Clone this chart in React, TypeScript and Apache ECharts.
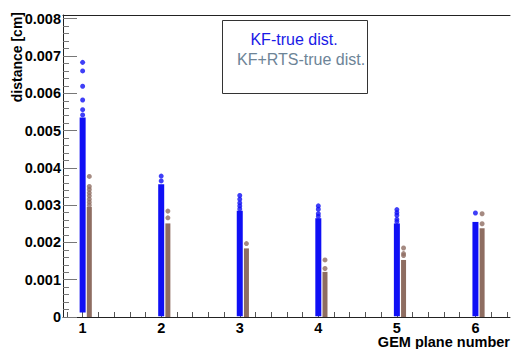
import React, { useEffect, useRef } from "react";
import * as echarts from "echarts";

// GEM plane numbers
const planes = [1, 2, 3, 4, 5, 6];
// x-axis tick labels
const xTickValues = [1, 2, 3, 4, 5, 6];
// y-axis tick labels
const yTickValues = [0, 0.001, 0.002, 0.003, 0.004, 0.005, 0.006, 0.007, 0.008];

// KF-true dist.: dense bulk of points (low / high) per plane
const kfBulkLow = [0.00012, 0.00002, 0.00002, 0.00002, 0.00002, 0.00002];
const kfBulkHigh = [0.00535, 0.00356, 0.00285, 0.00265, 0.00251, 0.00255];
// KF-true dist.: isolated points above the bulk
const kfSparse1 = [0.00683, 0.0066, 0.00619, 0.00582, 0.00556, 0.00542];
const kfSparse2 = [0.00378, 0.00365];
const kfSparse3 = [0.00326, 0.00316, 0.00306, 0.00298, 0.0029];
const kfSparse4 = [0.00298, 0.00289, 0.00277, 0.0027];
const kfSparse5 = [0.00288, 0.0028, 0.00273, 0.00262, 0.00256];
const kfSparse6 = [0.00279];
const kfSparse = [kfSparse1, kfSparse2, kfSparse3, kfSparse4, kfSparse5, kfSparse6];

// KF+RTS-true dist.: dense bulk per plane
const rtsBulkLow = [0, 0, 0, 0, 0, 0];
const rtsBulkHigh = [0.00295, 0.00251, 0.00184, 0.00121, 0.00153, 0.00238];
// KF+RTS-true dist.: isolated points
const rtsSparse1 = [0.00377, 0.0035, 0.00342, 0.00333, 0.00325, 0.00316, 0.00308, 0.003];
const rtsSparse2 = [0.00284, 0.00266];
const rtsSparse3 = [0.00197];
const rtsSparse4 = [0.00153, 0.0013];
const rtsSparse5 = [0.00185, 0.0017, 0.00165];
const rtsSparse6 = [0.00277, 0.0025];
const rtsSparse = [rtsSparse1, rtsSparse2, rtsSparse3, rtsSparse4, rtsSparse5, rtsSparse6];

const BLUE = "#0f0ff5";
const BROWN = "#8e6d61";
const RTS_SHIFT = 0.085;
const FONT = "'Liberation Sans', Arial, sans-serif";

function minorValues(lo: number, hi: number, step: number, majors: number[]) {
  const out: number[] = [];
  const n = Math.round((hi - lo) / step);
  for (let i = 0; i <= n; i++) {
    const v = +(lo + i * step).toFixed(6);
    if (!majors.some((m) => Math.abs(m - v) < step / 10)) out.push(v);
  }
  return out;
}

export default function App() {
  const ref = useRef<HTMLDivElement>(null);
  useEffect(() => {
    if (!ref.current) return;
    const chart = echarts.init(ref.current, null, { renderer: "svg" });
    const xMin = 0.75;
    const xMax = 6.44;
    const yMax = 0.0081;

    const bulkRender = (width: number) => (params: any, api: any) => {
      const x = api.value(0);
      const p0 = api.coord([x, api.value(1)]);
      const p1 = api.coord([x, api.value(2)]);
      return {
        type: "rect",
        shape: { x: p0[0] - width / 2, y: p1[1], width, height: p0[1] - p1[1] },
        style: { fill: api.visual("color") },
      };
    };

    const kfBulk = planes.map((p, i) => [p, kfBulkLow[i], kfBulkHigh[i]]);
    const rtsBulk = planes.map((p, i) => [p + RTS_SHIFT, rtsBulkLow[i], rtsBulkHigh[i]]);
    const kfPts: number[][] = [];
    planes.forEach((p, i) => kfSparse[i].forEach((v) => kfPts.push([p, v])));
    const rtsPts: number[][] = [];
    planes.forEach((p, i) => rtsSparse[i].forEach((v) => rtsPts.push([p + RTS_SHIFT, v])));

    const axisLabelBase = { fontFamily: FONT, fontWeight: "bold", fontSize: 14.5, color: "#000" };

    chart.setOption({
      animation: false,
      backgroundColor: "#fff",
      grid: { left: 63, right: 2, top: 15, bottom: 32 },
      xAxis: [
        {
          type: "value", min: xMin, max: xMax, position: "bottom",
          axisLine: { show: true, onZero: false, lineStyle: { color: "#222", width: 1 } },
          axisTick: { show: true, inside: true, length: 10, customValues: xTickValues, lineStyle: { color: "#555" } },
          axisLabel: { show: true, customValues: xTickValues, margin: 3, ...axisLabelBase },
          splitLine: { show: false },
        },
        {
          type: "value", min: xMin, max: xMax, position: "bottom",
          axisLine: { show: false },
          axisTick: { show: true, inside: true, length: 5, customValues: minorValues(0.8, 6.4, 0.2, xTickValues), lineStyle: { color: "#555" } },
          axisLabel: { show: false },
          splitLine: { show: false },
        },
        {
          type: "value", min: xMin, max: xMax, position: "top",
          axisLine: { show: true, onZero: false, lineStyle: { color: "#222", width: 1 } },
          axisTick: { show: false }, axisLabel: { show: false }, splitLine: { show: false },
        },
      ],
      yAxis: [
        {
          type: "value", min: 0, max: yMax, position: "left",
          axisLine: { show: true, onZero: false, lineStyle: { color: "#222", width: 1 } },
          axisTick: { show: true, inside: true, length: 14, customValues: yTickValues, lineStyle: { color: "#777" } },
          axisLabel: {
            show: true, customValues: yTickValues, margin: 2, ...axisLabelBase,
            formatter: (v: number) => (v === 0 ? "0" : v.toFixed(3)),
          },
          splitLine: { show: false },
        },
        {
          type: "value", min: 0, max: yMax, position: "left",
          axisLine: { show: false },
          axisTick: { show: true, inside: true, length: 6, customValues: minorValues(0, 0.008, 0.0002, yTickValues), lineStyle: { color: "#777" } },
          axisLabel: { show: false },
          splitLine: { show: false },
        },
      ],
      series: [
        {
          type: "custom", name: "KF-true dist.", xAxisIndex: 0, yAxisIndex: 0,
          renderItem: bulkRender(6), data: kfBulk, itemStyle: { color: BLUE },
          encode: { x: 0, y: [1, 2] }, clip: true,
        },
        {
          type: "scatter", name: "KF-true dist. pts", xAxisIndex: 0, yAxisIndex: 0,
          data: kfPts, symbol: "circle", symbolSize: 5, itemStyle: { color: BLUE },
        },
        {
          type: "custom", name: "KF+RTS-true dist.", xAxisIndex: 0, yAxisIndex: 0,
          renderItem: bulkRender(5), data: rtsBulk, itemStyle: { color: BROWN },
          encode: { x: 0, y: [1, 2] }, clip: true,
        },
        {
          type: "scatter", name: "KF+RTS-true dist. pts", xAxisIndex: 0, yAxisIndex: 0,
          data: rtsPts, symbol: "circle", symbolSize: 5, itemStyle: { color: BROWN },
        },
      ],
      graphic: [
        {
          type: "rect", left: 222, top: 20, z: 100,
          shape: { width: 145, height: 73 },
          style: { fill: "#fff", stroke: "#333", lineWidth: 1 },
        },
        {
          type: "text", x: 294, y: 39, z: 101,
          style: { text: "KF-true dist.", fill: "#1a1ae6", font: `16px ${FONT}`, textAlign: "center", textVerticalAlign: "middle" },
        },
        {
          type: "text", x: 237, y: 59, z: 101,
          style: { text: "KF+RTS-true dist.", fill: "#6d8497", font: `16px ${FONT}`, textAlign: "left", textVerticalAlign: "middle" },
        },
        {
          type: "text", x: 17, y: 12, rotation: Math.PI / 2, z: 101,
          style: { text: "distance [cm]", fill: "#000", font: `bold 14px ${FONT}`, textAlign: "right", textVerticalAlign: "middle" },
        },
        {
          type: "text", x: 510, y: 342, z: 101,
          style: { text: "GEM plane number", fill: "#000", font: `bold 14.5px ${FONT}`, textAlign: "right", textVerticalAlign: "middle" },
        },
      ],
    });
    return () => chart.dispose();
  }, []);
  return <div ref={ref} style={{ position: "absolute", left: 0, top: 0, width: 512, height: 349 }} />;
}
